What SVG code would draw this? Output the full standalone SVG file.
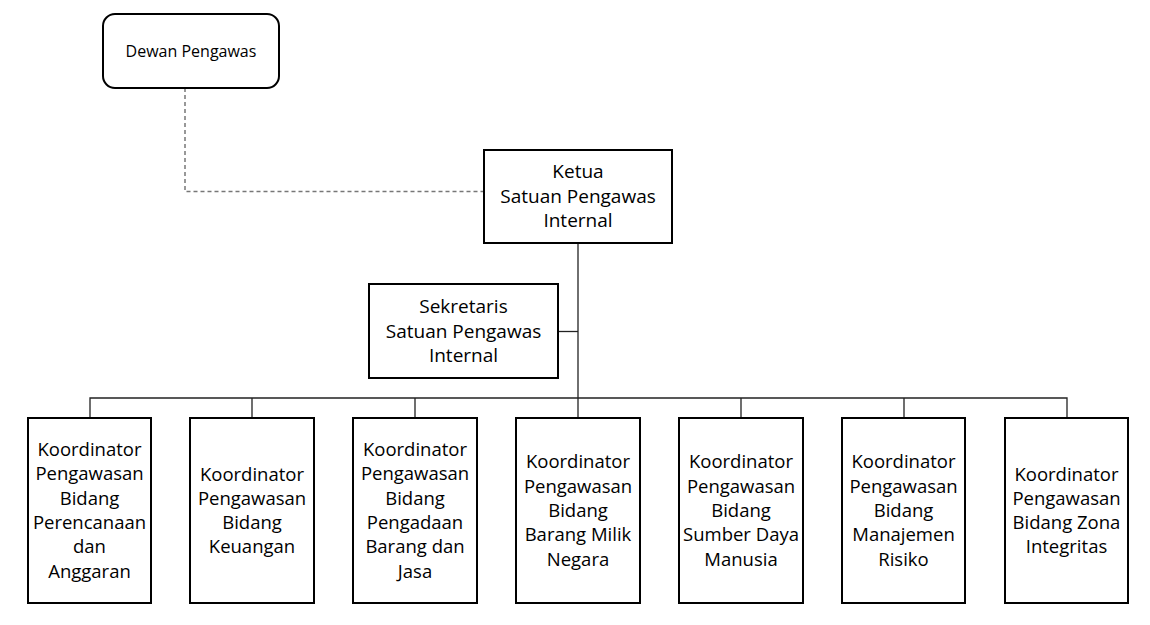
<svg xmlns="http://www.w3.org/2000/svg" width="1150" height="625" viewBox="0 0 1150 625">
<style>
.box{fill:#fff;stroke:#000;stroke-width:2}
.t{font-family:"Open Sans","Liberation Sans",sans-serif;fill:#000;text-anchor:middle}
.b{font-size:18.5px}
.m{font-size:19px}
.s{font-size:16px}
.c{fill:none;stroke:#222;stroke-width:1.3}
.d{fill:none;stroke:#777;stroke-width:1.5;stroke-dasharray:4 3}
</style>
<rect width="1150" height="625" fill="#fff"/>
<g id="connectors">
<path class="d" d="M185 88 V191.5 H483"/>
<path class="c" d="M578 243 V398"/>
<path class="c" d="M558 331.5 H578"/>
<path class="c" d="M90 418 V398 H1067 V418"/>
<path class="c" d="M252 398 V418 M415 398 V418 M578 398 V418 M741 398 V418 M904 398 V418"/>
</g>
<g id="dewan">
<rect class="box" x="103" y="14" width="176" height="74" rx="12"/>
<text class="t s" x="191" y="57">Dewan Pengawas</text>
</g>
<g id="ketua">
<rect class="box" x="484" y="150" width="188" height="93"/>
<text class="t m" x="578"><tspan x="578" y="178">Ketua</tspan><tspan x="578" y="202.5">Satuan Pengawas</tspan><tspan x="578" y="227">Internal</tspan></text>
</g>
<g id="sekretaris">
<rect class="box" x="369" y="284" width="189" height="94"/>
<text class="t m" x="463.5"><tspan x="463.5" y="313">Sekretaris</tspan><tspan x="463.5" y="337.5">Satuan Pengawas</tspan><tspan x="463.5" y="362">Internal</tspan></text>
</g>
<g id="k1">
<rect class="box" x="28" y="418" width="123" height="185"/>
<text class="t b"><tspan x="89.5" y="456">Koordinator</tspan><tspan x="89.5" y="480.3">Pengawasan</tspan><tspan x="89.5" y="504.6">Bidang</tspan><tspan x="89.5" y="528.9">Perencanaan</tspan><tspan x="89.5" y="553.2">dan</tspan><tspan x="89.5" y="577.5">Anggaran</tspan></text>
</g>
<g id="k2">
<rect class="box" x="190" y="418" width="124" height="185"/>
<text class="t b"><tspan x="252" y="480.5">Koordinator</tspan><tspan x="252" y="504.8">Pengawasan</tspan><tspan x="252" y="529.1">Bidang</tspan><tspan x="252" y="553.4">Keuangan</tspan></text>
</g>
<g id="k3">
<rect class="box" x="353" y="418" width="124" height="185"/>
<text class="t b"><tspan x="415" y="456">Koordinator</tspan><tspan x="415" y="480.3">Pengawasan</tspan><tspan x="415" y="504.6">Bidang</tspan><tspan x="415" y="528.9">Pengadaan</tspan><tspan x="415" y="553.2">Barang dan</tspan><tspan x="415" y="577.5">Jasa</tspan></text>
</g>
<g id="k4">
<rect class="box" x="516" y="418" width="124" height="185"/>
<text class="t b"><tspan x="578" y="468.4">Koordinator</tspan><tspan x="578" y="492.7">Pengawasan</tspan><tspan x="578" y="517">Bidang</tspan><tspan x="578" y="541.3">Barang Milik</tspan><tspan x="578" y="565.6">Negara</tspan></text>
</g>
<g id="k5">
<rect class="box" x="679" y="418" width="124" height="185"/>
<text class="t b"><tspan x="741" y="468.4">Koordinator</tspan><tspan x="741" y="492.7">Pengawasan</tspan><tspan x="741" y="517">Bidang</tspan><tspan x="741" y="541.3">Sumber Daya</tspan><tspan x="741" y="565.6">Manusia</tspan></text>
</g>
<g id="k6">
<rect class="box" x="842" y="418" width="123" height="185"/>
<text class="t b"><tspan x="903.5" y="468.4">Koordinator</tspan><tspan x="903.5" y="492.7">Pengawasan</tspan><tspan x="903.5" y="517">Bidang</tspan><tspan x="903.5" y="541.3">Manajemen</tspan><tspan x="903.5" y="565.6">Risiko</tspan></text>
</g>
<g id="k7">
<rect class="box" x="1005" y="418" width="123" height="185"/>
<text class="t b"><tspan x="1066.5" y="480.5">Koordinator</tspan><tspan x="1066.5" y="504.8">Pengawasan</tspan><tspan x="1066.5" y="529.1">Bidang Zona</tspan><tspan x="1066.5" y="553.4">Integritas</tspan></text>
</g>
</svg>
